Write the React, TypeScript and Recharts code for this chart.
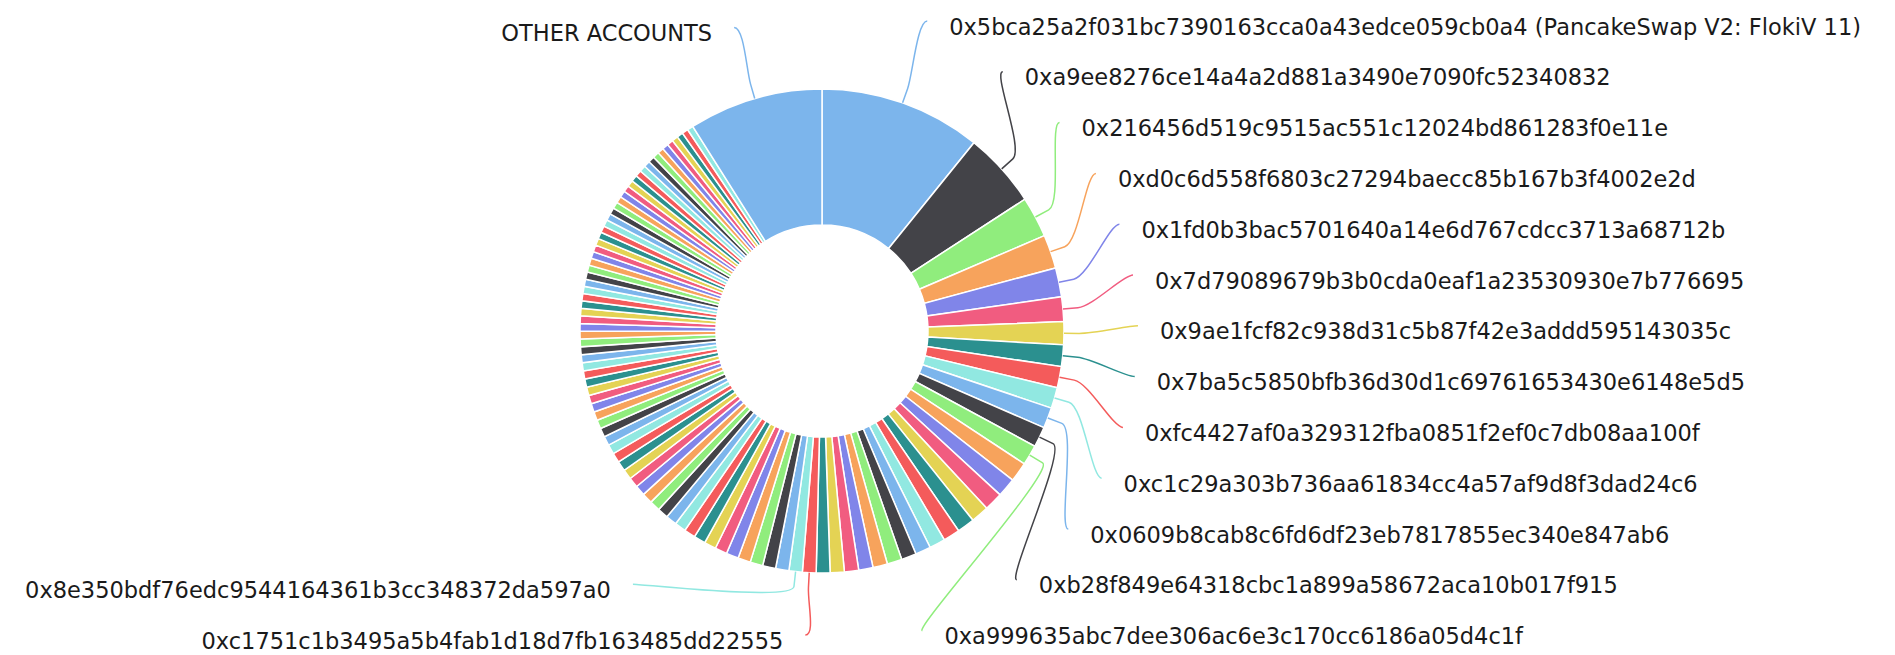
import { PieChart, Pie, Cell } from "recharts";

// Highcharts default palette, repeated every 10 slices
const PALETTE = [
  "#7cb5ec",
  "#434348",
  "#90ed7d",
  "#f7a35c",
  "#8085e9",
  "#f15c80",
  "#e4d354",
  "#2b908f",
  "#f45b5b",
  "#91e8e1",
];

// share of supply (%) for the top 100 holders
const HOLDER_SHARES = [
  10.81, 5.03, 2.72, 2.25, 1.93, 1.65, 1.53, 1.44, 1.42, 1.39,
  1.38, 1.36, 1.35, 1.31, 1.28, 1.25, 1.2, 1.17, 1.11, 1.06,
  1.03, 1.0, 0.99, 0.97, 0.96, 0.95, 0.94, 0.92, 0.91, 0.89,
  0.89, 0.87, 0.85, 0.84, 0.82, 0.81, 0.79, 0.78, 0.76, 0.75,
  0.73, 0.72, 0.71, 0.7, 0.69, 0.68, 0.67, 0.66, 0.65, 0.64,
  0.61, 0.6, 0.59, 0.58, 0.57, 0.57, 0.56, 0.55, 0.54, 0.54,
  0.53, 0.53, 0.52, 0.51, 0.51, 0.5, 0.5, 0.49, 0.49, 0.48,
  0.48, 0.48, 0.47, 0.47, 0.46, 0.46, 0.46, 0.45, 0.45, 0.45,
  0.45, 0.44, 0.44, 0.44, 0.43, 0.43, 0.43, 0.43, 0.42, 0.42,
  0.42, 0.42, 0.42, 0.41, 0.41, 0.41, 0.41, 0.41, 0.41, 0.4,
];

const OTHER_SHARE = 8.97;
const OTHER_LABEL = "OTHER ACCOUNTS";

// addresses whose labels are visible (empty = label hidden)
const HOLDER_ADDRESSES = [
  "0x5bca25a2f031bc7390163cca0a43edce059cb0a4 (PancakeSwap V2: FlokiV 11)",
  "0xa9ee8276ce14a4a2d881a3490e7090fc52340832",
  "0x216456d519c9515ac551c12024bd861283f0e11e",
  "0xd0c6d558f6803c27294baecc85b167b3f4002e2d",
  "0x1fd0b3bac5701640a14e6d767cdcc3713a68712b",
  "0x7d79089679b3b0cda0eaf1a23530930e7b776695",
  "0x9ae1fcf82c938d31c5b87f42e3addd595143035c",
  "0x7ba5c5850bfb36d30d1c69761653430e6148e5d5",
  "0xfc4427af0a329312fba0851f2ef0c7db08aa100f",
  "0xc1c29a303b736aa61834cc4a57af9d8f3dad24c6",
  "0x0609b8cab8c6fd6df23eb7817855ec340e847ab6",
  "0xb28f849e64318cbc1a899a58672aca10b017f915",
  "0xa999635abc7dee306ac6e3c170cc6186a05d4c1f",
  "", "", "", "", "", "", "", "", "", "", "", "", "", "", "",
  "0xc1751c1b3495a5b4fab1d18d7fb163485dd22555",
  "0x8e350bdf76edc9544164361b3cc348372da597a0",
];

const W = 1895;
const H = 655;
const CX = 822;
const CY = 331;
const R_OUT = 242;
const R_IN = 106;
const LABEL_R = 316;
const SLOT = 50.8;
const TOP = 21;
const BOTTOM = 635;
const GAP = 22;
const TEXT_DY = 5.5;
const BREAK = 15;
const RAD = Math.PI / 180;
const FONT = "'DejaVu Sans', sans-serif";

const data = [
  ...HOLDER_SHARES.map((v, i) => ({
    name: HOLDER_ADDRESSES[i] || `holder ${i + 1}`,
    value: v,
    label: HOLDER_ADDRESSES[i] || "",
  })),
  { name: OTHER_LABEL, value: OTHER_SHARE, label: OTHER_LABEL },
];

type Box = { key: number; target: number };

// spread label rows so they don't overlap (highcharts style grouping)
function distribute(items: Box[], top: number, bottom: number, h: number) {
  const sorted = [...items].sort((a, b) => a.target - b.target);
  const clamp = (g: { keys: number[]; pos: number }) => {
    g.pos = Math.min(Math.max(g.pos, top), bottom - (g.keys.length - 1) * h);
  };
  let groups = sorted.map((it) => ({ keys: [it.key], targets: [it.target], pos: it.target }));
  groups.forEach(clamp);
  let merged = true;
  while (merged) {
    merged = false;
    for (let i = 0; i < groups.length - 1; i++) {
      const a = groups[i];
      const b = groups[i + 1];
      if (a.pos + a.keys.length * h > b.pos) {
        const keys = [...a.keys, ...b.keys];
        const targets = [...a.targets, ...b.targets];
        const pos = targets.reduce((s, t, j) => s + (t - j * h), 0) / keys.length;
        const g = { keys, targets, pos };
        clamp(g);
        groups.splice(i, 2, g);
        merged = true;
        break;
      }
    }
  }
  const out: Record<number, number> = {};
  groups.forEach((g) => g.keys.forEach((k, j) => (out[k] = g.pos + j * h)));
  return out;
}

function buildLabelLayout() {
  const total = data.reduce((s, d) => s + d.value, 0);
  let acc = 0;
  const items = data
    .map((d, i) => {
      const mid = ((acc + d.value / 2) / total) * 360;
      acc += d.value;
      return { i, mid, label: d.label };
    })
    .filter((d) => d.label);
  const layout: Record<number, { x: number; y: number; left: boolean }> = {};
  [false, true].forEach((left) => {
    const side = items
      .filter((it) => it.mid > 180 === left)
      .map((it) => ({ key: it.i, target: CY - LABEL_R * Math.cos(it.mid * RAD) }));
    const ys = distribute(side, TOP, BOTTOM, SLOT);
    side.forEach((it) => {
      const y = ys[it.key];
      const atEdge = Math.abs(y - TOP) < 0.5 || Math.abs(y - BOTTOM) < 0.5;
      const dy = (atEdge ? it.target : y) - CY;
      const dx = Math.sqrt(Math.max(0, LABEL_R * LABEL_R - dy * dy));
      layout[it.key] = { x: CX + (left ? -dx : dx), y, left };
    });
  });
  return layout;
}

const LABEL_LAYOUT = buildLabelLayout();

const renderLabel = (props: any) => {
  const index = props.index ?? data.findIndex((d) => d.name === props.name);
  const pos = LABEL_LAYOUT[index];
  if (!pos) return null;
  const a = -props.midAngle * RAD;
  const r = props.outerRadius;
  const tx = props.cx + r * Math.cos(a);
  const ty = props.cy + r * Math.sin(a);
  const bx = props.cx + (r + BREAK) * Math.cos(a);
  const by = props.cy + (r + BREAK) * Math.sin(a);
  const c1x = pos.x + (pos.left ? 10 : -10);
  const d = `M${pos.x},${pos.y} C${c1x},${pos.y} ${2 * bx - tx},${2 * by - ty} ${bx},${by} L${tx},${ty}`;
  return (
    <g key={`label-${index}`}>
      <path d={d} fill="none" stroke={PALETTE[index % 10]} strokeWidth={1.5} />
      <text
        x={pos.x + (pos.left ? -GAP : GAP)}
        y={pos.y + TEXT_DY}
        textAnchor={pos.left ? "end" : "start"}
        dominantBaseline="central"
        fontFamily={FONT}
        fontSize={22.5}
        fill="#1a1a1a"
      >
        {data[index].label}
      </text>
    </g>
  );
};

export default function App() {
  return (
    <div style={{ width: W, height: H, background: "#fff" }}>
      <style>{`body{margin:0;background:#fff}`}</style>
      <PieChart width={W} height={H} margin={{ top: 0, right: 0, bottom: 0, left: 0 }}>
        <Pie
          data={data}
          dataKey="value"
          nameKey="name"
          cx={CX}
          cy={CY}
          innerRadius={R_IN}
          outerRadius={R_OUT}
          startAngle={90}
          endAngle={-270}
          stroke="#fff"
          strokeWidth={1.5}
          label={renderLabel}
          labelLine={false}
          isAnimationActive={false}
        >
          {data.map((_, i) => (
            <Cell key={i} fill={PALETTE[i % 10]} />
          ))}
        </Pie>
      </PieChart>
    </div>
  );
}
